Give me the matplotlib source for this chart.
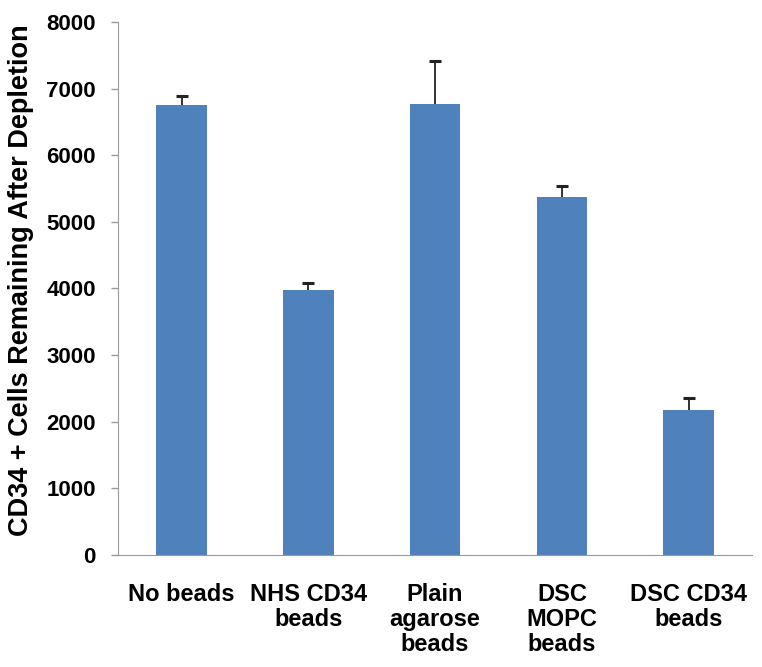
import numpy as np
import matplotlib
matplotlib.use('Agg')
import matplotlib.pyplot as plt

categories = ['No beads', 'NHS CD34\nbeads', 'Plain\nagarose\nbeads', 'DSC\nMOPC\nbeads', 'DSC CD34\nbeads']
values = np.array([6750, 3980, 6770, 5375, 2170])
errors = np.array([140, 100, 650, 160, 190])

plt.rcParams['font.family'] = ['Liberation Sans', 'DejaVu Sans']
plt.rcParams['font.weight'] = 'bold'

fig = plt.figure(figsize=(7.62, 6.67), dpi=100)
ax = fig.add_axes([0.155, 0.168, 0.832, 0.799])

x = np.arange(len(categories))
ax.bar(x, values, width=0.4, color='#4F81BD', zorder=2)
# upper-only error bars
ax.vlines(x, values, values + errors, color='#222222', linewidth=1.3, zorder=3)
ax.plot(x, values + errors, linestyle='none', marker='_', markersize=8,
        markeredgewidth=2.2, color='#222222', zorder=3)

ax.set_xlim(-0.5, len(categories) - 0.5)
ax.set_ylim(0, 8000)
ax.set_yticks(np.arange(0, 8001, 1000))
ax.set_xticks(x)
ax.set_xticklabels(categories, fontsize=17, fontweight='bold', linespacing=1.12)
ax.tick_params(axis='y', labelsize=16, color='#999999', length=5, width=1, pad=11)
ax.tick_params(axis='x', length=0, pad=20)
for lab in ax.get_yticklabels():
    lab.set_fontweight('bold')
ax.spines['top'].set_visible(False)
ax.spines['right'].set_visible(False)
ax.spines['left'].set_color('#999999')
ax.spines['bottom'].set_color('#999999')
ax.set_ylabel('CD34 + Cells Remaining After Depletion', fontsize=19.5, fontweight='bold')
ax.yaxis.set_label_coords(-0.133, 0.515)

plt.savefig('out.png', dpi=100)
plt.close()
